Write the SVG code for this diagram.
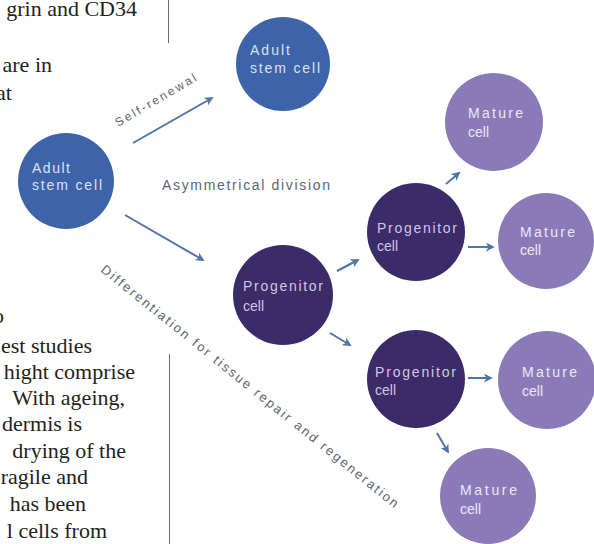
<svg xmlns="http://www.w3.org/2000/svg" width="594" height="544" viewBox="0 0 594 544">
<style>
.body{font-family:"Liberation Serif","Times New Roman",serif;font-size:22px;fill:#231f20;text-anchor:end}
.rule{stroke:#6b6b6b;stroke-width:1;fill:none}
.adult{fill:#3d64a8}
.prog{fill:#3c2b69}
.mature{fill:#8a7bb8}
.ct{font-family:"Liberation Sans",Arial,sans-serif;font-size:14px}
.ct-a{fill:#dbe2f0}
.ct-p{fill:#cfc8e2}
.ct-m{fill:#ece8f5}
.lbl{font-family:"Liberation Sans",Arial,sans-serif;fill:#5d6470}
.arrow{stroke:#4f74a6;stroke-width:2;fill:none;marker-end:url(#ah)}
</style>
<defs>
<marker id="ah" viewBox="0 0 10 10" refX="8" refY="5" markerWidth="9" markerHeight="9" markerUnits="userSpaceOnUse" orient="auto">
<path d="M0,0 L10,5 L0,10 L3,5 z" fill="#4f74a6"/>
</marker>
</defs>
<rect width="594" height="544" fill="#ffffff"/>

<g id="body-text">
<text class="body" x="137" y="16">grin and CD34</text>
<text class="body" x="52" y="72">are in</text>
<text class="body" x="12" y="100">at</text>
<text class="body" x="4" y="323">o</text>
<text class="body" x="92" y="353">est studies</text>
<text class="body" x="135" y="379">hight comprise</text>
<text class="body" x="125" y="405">With ageing,</text>
<text class="body" x="82" y="431">dermis is</text>
<text class="body" x="126" y="458">drying of the</text>
<text class="body" x="88" y="484">ragile and</text>
<text class="body" x="86" y="511">has been</text>
<text class="body" x="107" y="538">l cells from</text>
<line class="rule" x1="168.5" y1="0" x2="168.5" y2="43"/>
<line class="rule" x1="169.5" y1="354" x2="169.5" y2="544"/>
</g>

<g id="connectors">
<line class="arrow" x1="133" y1="143" x2="212" y2="98"/>
<line class="arrow" x1="125" y1="215" x2="203" y2="260"/>
<line class="arrow" x1="337" y1="271" x2="358" y2="260"/>
<line class="arrow" x1="330" y1="333" x2="350" y2="345"/>
<line class="arrow" x1="446" y1="184" x2="459" y2="173"/>
<line class="arrow" x1="468" y1="247" x2="493" y2="247"/>
<line class="arrow" x1="468" y1="378" x2="491" y2="378"/>
<line class="arrow" x1="437" y1="433" x2="448" y2="452"/>
<text class="lbl" font-size="12" transform="translate(118,127) rotate(-30.4)" textLength="92" lengthAdjust="spacing">Self-renewal</text>
<text class="lbl" font-size="14" x="162" y="190" textLength="168" lengthAdjust="spacing">Asymmetrical division</text>
<text class="lbl" font-size="13" transform="translate(100,271) rotate(38.9)" textLength="378" lengthAdjust="spacing">Differentiation for tissue repair and regeneration</text>
</g>

<g id="adult-left">
<circle class="adult" cx="66" cy="181" r="48"/>
<text class="ct ct-a" x="32" y="173" textLength="38" lengthAdjust="spacing">Adult</text>
<text class="ct ct-a" x="32" y="190" textLength="70" lengthAdjust="spacing">stem cell</text>
</g>

<g id="adult-top">
<circle class="adult" cx="283" cy="64" r="47"/>
<text class="ct ct-a" x="250" y="55" textLength="40" lengthAdjust="spacing">Adult</text>
<text class="ct ct-a" x="250" y="73" textLength="70" lengthAdjust="spacing">stem cell</text>
</g>

<g id="progenitor-mid">
<circle class="prog" cx="283" cy="295" r="50"/>
<text class="ct ct-p" x="243" y="291" textLength="80" lengthAdjust="spacing">Progenitor</text>
<text class="ct ct-p" x="243" y="311">cell</text>
</g>

<g id="progenitor-upper">
<circle class="prog" cx="416" cy="232" r="49"/>
<text class="ct ct-p" x="377" y="233" textLength="80" lengthAdjust="spacing">Progenitor</text>
<text class="ct ct-p" x="377" y="251">cell</text>
</g>

<g id="progenitor-lower">
<circle class="prog" cx="416" cy="379" r="49"/>
<text class="ct ct-p" x="375" y="377" textLength="81" lengthAdjust="spacing">Progenitor</text>
<text class="ct ct-p" x="375" y="395">cell</text>
</g>

<g id="mature-top">
<circle class="mature" cx="494" cy="122" r="49"/>
<text class="ct ct-m" x="468" y="118" textLength="55" lengthAdjust="spacing">Mature</text>
<text class="ct ct-m" x="468" y="137">cell</text>
</g>

<g id="mature-upper-right">
<circle class="mature" cx="546" cy="241" r="48"/>
<text class="ct ct-m" x="520" y="237" textLength="55" lengthAdjust="spacing">Mature</text>
<text class="ct ct-m" x="520" y="255">cell</text>
</g>

<g id="mature-lower-right">
<circle class="mature" cx="547" cy="380" r="49"/>
<text class="ct ct-m" x="522" y="377" textLength="55" lengthAdjust="spacing">Mature</text>
<text class="ct ct-m" x="522" y="396">cell</text>
</g>

<g id="mature-bottom">
<circle class="mature" cx="488" cy="496" r="48"/>
<text class="ct ct-m" x="460" y="495" textLength="57" lengthAdjust="spacing">Mature</text>
<text class="ct ct-m" x="460" y="514">cell</text>
</g>
</svg>
